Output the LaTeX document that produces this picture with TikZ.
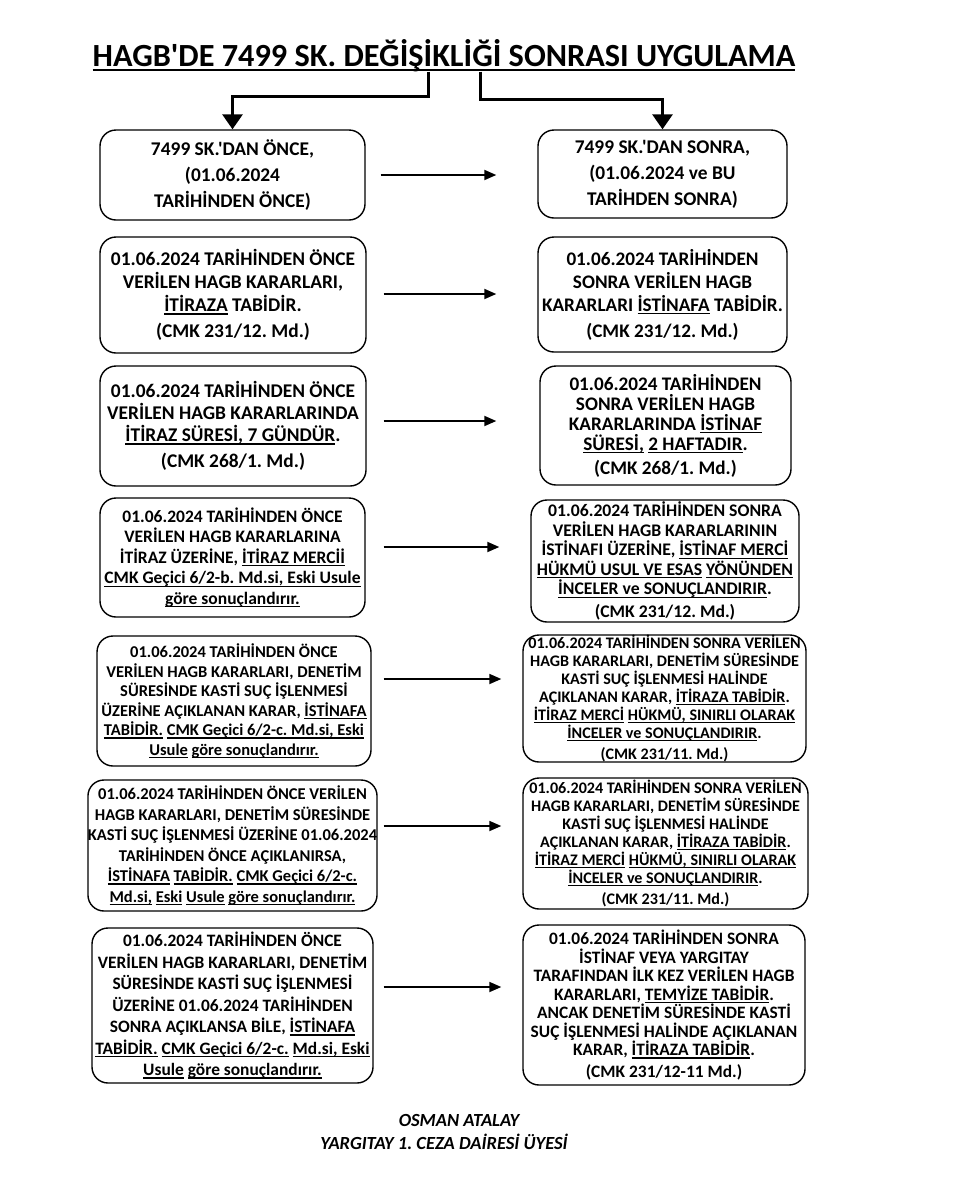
\documentclass[tikz,border=0pt]{standalone}
\usepackage{fontspec}
\setmainfont{Carlito}[Ligatures=TeXOff]
\usepackage{tikz}
\usetikzlibrary{arrows.meta}
\frenchspacing
\newcommand\uln[1]{\setbox0\hbox{#1}\rlap{\rule[-0.17em]{\wd0}{0.075em}}\box0\relax}
\tikzset{
  box/.style={draw=black,line width=1.4pt,rounded corners=16pt,align=center,inner sep=0pt},
  fs/.style 2 args={font=\bfseries\fontsize{#1}{#2}\selectfont},
  flow/.style={-{Triangle[length=12pt,width=10pt]},line width=1.8pt},
  bigflow/.style={-{Triangle[length=15pt,width=20pt]},line width=3pt},
  sign/.style={font=\bfseries\itshape\fontsize{18.5}{21}\selectfont,inner sep=0pt},
}
\begin{document}
\begin{tikzpicture}[x=1pt,y=-1pt]
  \fill[white] (0,0) rectangle (961,1200);
  \useasboundingbox (0,0) rectangle (961,1200);

  \node[anchor=base,inner sep=0pt,font=\bfseries\fontsize{32.3}{38}\selectfont] (title) at (444,66)
    {\uln{HAGB'DE 7499 SK. DEĞİŞİKLİĞİ SONRASI UYGULAMA}};

  \node[box,fs={19.4}{26},minimum width=265pt,minimum height=90pt] (l1) at (232.5,175)
    {7499 SK.'DAN ÖNCE,\\ (01.06.2024\\ TARİHİNDEN ÖNCE)};
  \node[box,fs={19.4}{26},minimum width=249pt,minimum height=88pt] (r1) at (662.5,174)
    {7499 SK.'DAN SONRA,\\ (01.06.2024 ve BU\\ TARİHDEN SONRA)};

  \node[box,fs={19.4}{23},minimum width=266pt,minimum height=116pt] (l2) at (233,295)
    {01.06.2024 TARİHİNDEN ÖNCE\\ VERİLEN HAGB KARARLARI,\\ \uln{İTİRAZA} TABİDİR.\\[3pt] (CMK 231/12. Md.)};
  \node[box,fs={19.2}{23},minimum width=249pt,minimum height=115pt] (r2) at (662.5,294.5)
    {01.06.2024 TARİHİNDEN\\ SONRA VERİLEN HAGB\\ KARARLARI \uln{İSTİNAFA} TABİDİR.\\[3pt] (CMK 231/12. Md.)};

  \node[box,fs={19.4}{22},minimum width=266pt,minimum height=120pt] (l3) at (233,426)
    {01.06.2024 TARİHİNDEN ÖNCE\\ VERİLEN HAGB KARARLARINDA\\ \uln{İTİRAZ SÜRESİ, 7 GÜNDÜR}.\\[4pt] (CMK 268/1. Md.)};
  \node[box,fs={19.2}{20},minimum width=251pt,minimum height=119pt] (r3) at (665.5,425.5)
    {01.06.2024 TARİHİNDEN\\ SONRA VERİLEN HAGB\\ KARARLARINDA \uln{İSTİNAF}\\ \uln{SÜRESİ,} \uln{2 HAFTADIR}.\\[4pt] (CMK 268/1. Md.)};

  \node[box,fs={17.5}{20.5},minimum width=265pt,minimum height=119pt] (l4) at (232.5,557.5)
    {01.06.2024 TARİHİNDEN ÖNCE\\ VERİLEN HAGB KARARLARINA\\ İTİRAZ ÜZERİNE, \uln{İTİRAZ MERCİİ}\\
     \uln{CMK Geçici 6/2-b. Md.si, Eski Usule}\\ \uln{göre sonuçlandırır.}};
  \node[box,fs={17.7}{19.5},minimum width=268pt,minimum height=122pt] (r4) at (665,561)
    {01.06.2024 TARİHİNDEN SONRA\\ VERİLEN HAGB KARARLARININ\\ İSTİNAFI ÜZERİNE, \uln{İSTİNAF MERCİ}\\
     \uln{HÜKMÜ USUL VE ESAS} \uln{YÖNÜNDEN}\\ \uln{İNCELER ve SONUÇLANDIRIR}.\\[3pt] (CMK 231/12. Md.)};

  \node[box,fs={16.5}{19.5},minimum width=274pt,minimum height=130pt] (l5) at (234,701)
    {01.06.2024 TARİHİNDEN ÖNCE\\ VERİLEN HAGB KARARLARI, DENETİM\\ SÜRESİNDE KASTİ SUÇ İŞLENMESİ\\
     ÜZERİNE AÇIKLANAN KARAR, \uln{İSTİNAFA}\\ \uln{TABİDİR.} \uln{CMK Geçici 6/2-c. Md.si, Eski}\\
     \uln{Usule} \uln{göre sonuçlandırır.}};
  \node[box,fs={16.1}{18},minimum width=283pt,minimum height=127pt] (r5) at (664.5,698.5)
    {01.06.2024 TARİHİNDEN SONRA VERİLEN\\ HAGB KARARLARI, DENETİM SÜRESİNDE\\ KASTİ SUÇ İŞLENMESİ HALİNDE\\
     AÇIKLANAN KARAR, \uln{İTİRAZA TABİDİR}.\\ \uln{İTİRAZ MERCİ} \uln{HÜKMÜ, SINIRLI OLARAK}\\
     \uln{İNCELER ve SONUÇLANDIRIR}.\\[3pt] (CMK 231/11. Md.)};

  \node[box,fs={16.5}{20.5},minimum width=289pt,minimum height=131pt] (l6) at (232.5,845.5)
    {01.06.2024 TARİHİNDEN ÖNCE VERİLEN\\ HAGB KARARLARI, DENETİM SÜRESİNDE\\ KASTİ SUÇ İŞLENMESİ ÜZERİNE 01.06.2024\\
     TARİHİNDEN ÖNCE AÇIKLANIRSA,\\ \uln{İSTİNAFA} \uln{TABİDİR.} \uln{CMK Geçici 6/2-c.}\\
     \uln{Md.si,} \uln{Eski} \uln{Usule} \uln{göre sonuçlandırır.}};
  \node[box,fs={16.1}{18},minimum width=285pt,minimum height=131pt] (r6) at (665.5,843.5)
    {01.06.2024 TARİHİNDEN SONRA VERİLEN\\ HAGB KARARLARI, DENETİM SÜRESİNDE\\ KASTİ SUÇ İŞLENMESİ HALİNDE\\
     AÇIKLANAN KARAR, \uln{İTİRAZA TABİDİR}.\\ \uln{İTİRAZ MERCİ} \uln{HÜKMÜ, SINIRLI OLARAK}\\
     \uln{İNCELER ve SONUÇLANDIRIR}.\\[3pt] (CMK 231/11. Md.)};

  \node[box,fs={17.4}{21.5},minimum width=281pt,minimum height=155pt] (l7) at (232.5,1005.5)
    {01.06.2024 TARİHİNDEN ÖNCE\\ VERİLEN HAGB KARARLARI, DENETİM\\ SÜRESİNDE KASTİ SUÇ İŞLENMESİ\\
     ÜZERİNE 01.06.2024 TARİHİNDEN\\ SONRA AÇIKLANSA BİLE, \uln{İSTİNAFA}\\
     \uln{TABİDİR.} \uln{CMK Geçici 6/2-c.} \uln{Md.si, Eski}\\ \uln{Usule} \uln{göre sonuçlandırır.}};
  \node[box,fs={17.4}{18.5},minimum width=282pt,minimum height=160pt] (r7) at (664,1005)
    {01.06.2024 TARİHİNDEN SONRA\\ İSTİNAF VEYA YARGITAY\\ TARAFINDAN İLK KEZ VERİLEN HAGB\\
     KARARLARI, \uln{TEMYİZE TABİDİR}.\\ ANCAK DENETİM SÜRESİNDE KASTİ\\ SUÇ İŞLENMESİ HALİNDE AÇIKLANAN\\
     KARAR, \uln{İTİRAZA TABİDİR}.\\[3pt] (CMK 231/12-11 Md.)};

  \node[sign] (name) at (459,1120) {OSMAN ATALAY};
  \node[sign] (duty) at (444,1142) {YARGITAY 1. CEZA DAİRESİ ÜYESİ};

  \draw[bigflow] (title.south -| 428,0) |- ([yshift=33pt]l1.north) -- (l1.north);
  \draw[bigflow] (title.south -| 480,0) |- ([yshift=30pt]r1.north) -- (r1.north);

  \foreach \r/\y/\s/\e in {1/175/15/41,2/294/17/41,3/421/17/43,4/547/18/31,5/679/12/21,6/826/6/21,7/987/10/21}
    \draw[flow,shorten <=\s pt,shorten >=\e pt] (l\r.east |- 0,\y) -- (r\r.west |- 0,\y);
\end{tikzpicture}
\end{document}
